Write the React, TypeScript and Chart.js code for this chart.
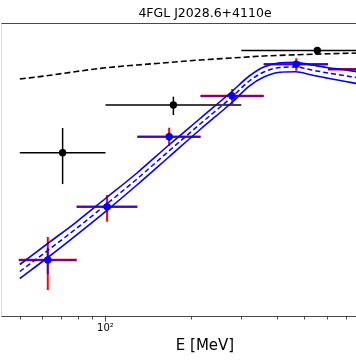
import React, { useEffect, useRef } from "react";
import { Chart, registerables } from "chart.js";

Chart.register(...registerables);

const titleText = "4FGL J2028.6+4110e";
const xAxisTitle = "E [MeV]";
const xTickValues = [50, 60, 70, 80, 90, 100, 200, 300, 400, 500, 600, 700, 800, 900, 1000];
const xMajorTicks = [100, 1000];
const xTickLabels: Record<number, string> = { 100: "10²", 1000: "10³" };
const xMin = 42.95;
const xMax = 1165;
const yMin = 1.175;
const yMax = 1000;

// black points (wide bins)
const blackE = [70.7, 173.2, 555];
const blackElo = [50, 100, 300];
const blackEhi = [100, 300, 1000];
const blackFlux = [50.5, 151.4, 530.9];
const blackFluxLo = [24.5, 120.2, 495.5];
const blackFluxHi = [89.1, 183.2, 568.9];

// blue points (narrow bins)
const blueE = [62.7, 101.3, 167.4, 278.7, 468, 779];
const blueElo = [49.6, 79.2, 129.4, 215.8, 359.7, 605];
const blueEhi = [79.2, 129.4, 215.8, 359.7, 605, 1000];
const blueFlux = [4.266, 14.55, 72.9, 186.2, 386.4, 344.4];
const blueStatLo = [3.09, 12.88, 66.5, 171.8, 360.6, 321.4];
const blueStatHi = [5.623, 16.22, 80.0, 201.8, 414.0, 368.9];
const blueTotLo = [2.138, 10.3, 58.9, 154.9, 333.4, 299.9];
const blueTotHi = [7.244, 19.05, 89.7, 218.8, 443.6, 395.4];

// blue model with band
const modelE = [50, 63, 79, 100, 129, 167, 215, 278, 320, 360, 410, 465, 530, 605, 690, 779, 1000];
const modelMid = [3.273, 5.37, 8.81, 15.14, 27.54, 52.48, 97.72, 182.0, 263.0, 323.6, 358.9, 363.1, 338.8, 316.2, 298.5, 281.8, 254.1];
const modelHigh = [3.846, 6.31, 10.23, 17.58, 31.62, 60.26, 110.9, 206.5, 295.1, 363.1, 399.9, 404.6, 380.2, 357.3, 340.4, 323.6, 295.1];
const modelLow = [2.786, 4.571, 7.586, 13.03, 23.99, 45.71, 86.1, 160.3, 234.4, 288.4, 322.1, 325.8, 302.0, 279.9, 261.8, 245.5, 218.8];

// black dashed reference model
const refE = [50, 63, 79, 100, 129, 167, 215, 278, 360, 465, 605, 779, 1000];
const refFlux = [275.4, 298.5, 327.3, 356.5, 380.2, 402.7, 426.6, 446.7, 467.7, 480.8, 492.0, 501.2, 512.9];

const FONT = "DejaVu Sans";
const BLUE = "#0000ff";
const BLUE_BAR = "rgba(0,0,255,0.72)";
const RED = "#ff0000";

function seg(x1: number, y1: number, x2: number, y2: number) {
  return [
    { x: x1, y: y1 },
    { x: x2, y: y2 },
  ];
}

function lineDs(data: any[], color: string, width: number, order: number, dash: number[] = []) {
  return {
    data,
    showLine: true,
    borderColor: color,
    borderWidth: width,
    borderDash: dash,
    pointRadius: 0,
    pointHoverRadius: 0,
    fill: false,
    order,
    cubicInterpolationMode: "monotone" as const,
  };
}

const framePlugin = {
  id: "frameTicks",
  afterDraw(chart: any) {
    const { ctx, chartArea } = chart;
    const xs = chart.scales.x;
    ctx.save();
    ctx.strokeStyle = "#333";
    ctx.lineWidth = 0.9;
    const t = Math.round(chartArea.top) + 0.5;
    const b = Math.round(chartArea.bottom) + 0.5;
    ctx.beginPath();
    ctx.moveTo(chartArea.left, t);
    ctx.lineTo(chartArea.right, t);
    ctx.moveTo(chartArea.left, b);
    ctx.lineTo(chartArea.right, b);
    ctx.stroke();
    ctx.strokeStyle = "#d8d8d8";
    ctx.beginPath();
    ctx.moveTo(Math.round(chartArea.left) + 0.5, t);
    ctx.lineTo(Math.round(chartArea.left) + 0.5, b);
    ctx.stroke();
    ctx.strokeStyle = "#333";
    ctx.lineWidth = 0.9;
    for (const v of xTickValues) {
      const px = Math.round(xs.getPixelForValue(v)) + 0.5;
      const len = xMajorTicks.includes(v) ? 5 : 3;
      ctx.beginPath();
      ctx.moveTo(px, b);
      ctx.lineTo(px, b + len);
      ctx.stroke();
    }
    ctx.restore();
  },
};

export default function App() {
  const ref = useRef<HTMLCanvasElement | null>(null);

  useEffect(() => {
    if (!ref.current) return;
    const datasets: any[] = [];

    // blue points: total (red) y errors, underlay red x bars, blue x bars & stat y bars
    blueE.forEach((e, i) => {
      datasets.push(lineDs(seg(e, blueTotLo[i], e, blueTotHi[i]), RED, 2, 20));
      datasets.push(lineDs(seg(blueElo[i], blueFlux[i], blueEhi[i], blueFlux[i]), RED, 2.4, 19));
      datasets.push(lineDs(seg(blueElo[i], blueFlux[i], blueEhi[i], blueFlux[i]), BLUE_BAR, 1.6, 18));
      datasets.push(lineDs(seg(e, blueStatLo[i], e, blueStatHi[i]), BLUE_BAR, 2, 18));
    });

    // black error bars
    blackE.forEach((e, i) => {
      datasets.push(lineDs(seg(blackElo[i], blackFlux[i], blackEhi[i], blackFlux[i]), "#000", 1.5, 15));
      datasets.push(lineDs(seg(e, blackFluxLo[i], e, blackFluxHi[i]), "#000", 1.5, 15));
    });

    // models
    const pts = (xs: number[], ys: number[]) => xs.map((x, i) => ({ x, y: ys[i] }));
    datasets.push(lineDs(pts(modelE, modelHigh), BLUE, 1.6, 10));
    datasets.push(lineDs(pts(modelE, modelLow), BLUE, 1.6, 10));
    datasets.push(lineDs(pts(modelE, modelMid), BLUE, 1.5, 10, [5, 3]));
    datasets.push(lineDs(pts(refE, refFlux), "#000", 1.6, 10, [6, 3]));

    // markers
    datasets.push({
      data: pts(blackE, blackFlux),
      showLine: false,
      pointRadius: 3.7,
      pointBackgroundColor: "#000",
      pointBorderColor: "#000",
      pointBorderWidth: 0,
      order: 2,
    });
    datasets.push({
      data: pts(blueE, blueFlux),
      showLine: false,
      pointRadius: 3.7,
      pointBackgroundColor: BLUE,
      pointBorderColor: BLUE,
      pointBorderWidth: 0,
      order: 1,
    });

    const chart = new Chart(ref.current, {
      type: "scatter",
      data: { datasets },
      plugins: [framePlugin],
      options: {
        animation: false,
        responsive: false,
        maintainAspectRatio: false,
        devicePixelRatio: 1,
        layout: { padding: 0 },
        events: [],
        plugins: {
          legend: { display: false },
          tooltip: { enabled: false },
          title: {
            display: true,
            text: titleText,
            color: "#000",
            font: { family: FONT, size: 12.5, weight: "normal" },
            padding: { top: 6.5, bottom: 1.5 },
          },
        },
        scales: {
          x: {
            type: "logarithmic",
            min: xMin,
            max: xMax,
            afterBuildTicks: (s: any) => {
              s.ticks = xTickValues.map((v) => ({ value: v }));
            },
            ticks: {
              autoSkip: false,
              maxRotation: 0,
              padding: 1,
              color: "#000",
              font: { family: FONT, size: 10 },
              callback: (v: any) => xTickLabels[Number(v)] ?? "",
            },
            grid: { drawOnChartArea: false, tickLength: 5, tickColor: "rgba(0,0,0,0)" },
            border: { display: false },
            title: {
              display: true,
              text: xAxisTitle,
              color: "#000",
              font: { family: FONT, size: 15 },
              padding: { top: 2, bottom: 9 },
            },
          },
          y: {
            type: "logarithmic",
            min: yMin,
            max: yMax,
            display: false,
          },
        },
      } as any,
    });
    return () => chart.destroy();
  }, []);

  return (
    <div
      style={{
        position: "fixed",
        left: 0,
        top: 0,
        width: 356,
        height: 364,
        overflow: "hidden",
        background: "#fff",
      }}
    >
      <canvas
        ref={ref}
        width={416}
        height={364}
        style={{ display: "block", marginLeft: -3 }}
      />
    </div>
  );
}
